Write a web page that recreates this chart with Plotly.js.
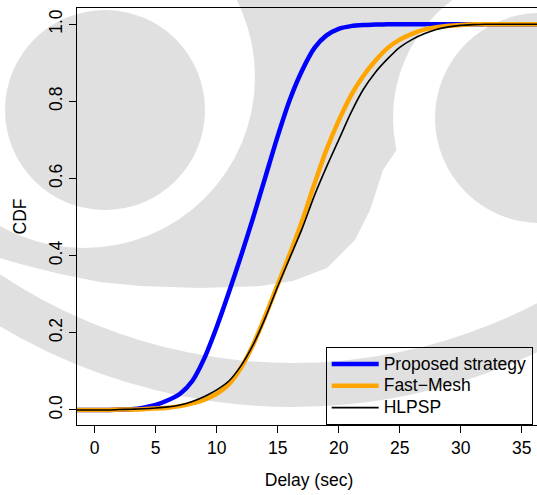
<!DOCTYPE html>
<html>
<head>
<meta charset="utf-8">
<script src="https://cdn.plot.ly/plotly-3.0.1.min.js"></script>
<style>
html, body { margin: 0; padding: 0; overflow: hidden; background: #ffffff; }
#chart { width: 541px; height: 495px; }
</style>
</head>
<body>
<div id="chart"></div>
<script>
// ---- data ----
const delay = [-2, 0, 1, 2, 3, 4, 5, 6, 7, 8, 9, 10, 11, 12, 13, 14, 15, 16, 17, 18, 19, 20, 21, 22, 23, 24, 25, 26, 27, 28, 29, 30, 31, 32, 33, 38];
const proposedCdf = [0, 0, 0, 0.001, 0.002, 0.006, 0.013, 0.025, 0.042, 0.075, 0.135, 0.215, 0.305, 0.40, 0.50, 0.605, 0.71, 0.805, 0.88, 0.938, 0.971, 0.988, 0.995, 0.998, 0.999, 1.0, 1.0, 1.0, 1.0, 1.0, 1.0, 1.0, 1.0, 1.0, 1.0, 1.0];
const fastMeshCdf = [0, 0, 0, 0.001, 0.001, 0.002, 0.004, 0.006, 0.010, 0.017, 0.027, 0.042, 0.067, 0.11, 0.17, 0.245, 0.325, 0.405, 0.49, 0.585, 0.675, 0.75, 0.815, 0.865, 0.905, 0.938, 0.96, 0.975, 0.986, 0.992, 0.996, 0.998, 1.0, 1.0, 1.0, 1.0];
const hlpspCdf = [0, 0, 0, 0.001, 0.002, 0.003, 0.005, 0.008, 0.013, 0.022, 0.035, 0.052, 0.075, 0.115, 0.17, 0.24, 0.32, 0.395, 0.47, 0.555, 0.63, 0.70, 0.77, 0.83, 0.875, 0.91, 0.94, 0.96, 0.975, 0.986, 0.993, 0.997, 0.999, 1.0, 1.0, 1.0];
const seriesNames = ["Proposed strategy", "Fast\u2212Mesh", "HLPSP"];
const xTicks = [0, 5, 10, 15, 20, 25, 30, 35];
const yTicks = [0, 0.2, 0.4, 0.6, 0.8, 1.0];
const yTickText = ["0.0", "0.2", "0.4", "0.6", "0.8", "1.0"];

// ---- geometry ----
const W = 541, H = 495, ML = 77, MR = 0, MT = 8, MB = 70;
const PW = W - ML - MR, PH = H - MT - MB;
const px2x = p => (p - ML) / PW;
const px2y = p => (H - MB - p) / PH;
const WM = '#e0e0e0';
function disc(cx, cy, r, color) {
  return { type: 'circle', xref: 'paper', yref: 'paper', layer: 'below',
    x0: px2x(cx - r), x1: px2x(cx + r), y0: px2y(cy + r), y1: px2y(cy - r),
    fillcolor: color, line: { width: 0 } };
}
function poly(pts, color) {
  const d = pts.map((p, i) => (i ? 'L' : 'M') + px2x(p[0]).toFixed(4) + ',' + px2y(p[1]).toFixed(4)).join(' ') + ' Z';
  return { type: 'path', xref: 'paper', yref: 'paper', layer: 'below', path: d,
    fillcolor: color, line: { width: 0 } };
}
// faint background watermark (approximate)
const shapes = [
  disc(293, -165, 572, WM),
  disc(293, -165, 528, '#ffffff'),
  poly([[30, -10], [460, -10], [440, 60], [410, 130], [383, 170], [370, 210], [355, 240], [327, 268],
        [293, 281], [260, 286], [200, 288], [140, 286], [100, 282], [60, 274], [20, 264], [-10, 255], [-10, 150]], WM),
  disc(84, 77, 171, '#ffffff'),
  disc(105, 110, 100, WM),
  disc(540, 118, 147, '#ffffff'),
  disc(540, 118, 105, WM)
];

const font = "'Liberation Sans', Arial, Helvetica, sans-serif";
const FS = 17.5;
const legendName = s => '<span style="font-size:' + FS + 'px">' + s + '</span>';

const traces = [
  { x: delay, y: proposedCdf, name: legendName(seriesNames[0]), type: 'scatter', mode: 'lines',
    line: { color: '#0000ff', width: 4.5, shape: 'spline', smoothing: 0.8 } },
  { x: delay, y: fastMeshCdf, name: legendName(seriesNames[1]), type: 'scatter', mode: 'lines',
    line: { color: '#ffa500', width: 4.5, shape: 'spline', smoothing: 0.8 } },
  { x: delay, y: hlpspCdf, name: legendName(seriesNames[2]), type: 'scatter', mode: 'lines',
    line: { color: '#000000', width: 1.6, shape: 'spline', smoothing: 0.8 } }
];

const layout = {
  width: W, height: H,
  margin: { l: ML, r: MR, t: MT, b: MB, pad: 0 },
  paper_bgcolor: '#ffffff',
  plot_bgcolor: 'rgba(0,0,0,0)',
  font: { family: font, size: FS, color: '#000000' },
  showlegend: true,
  shapes: shapes,
  xaxis: {
    range: [-1.45, 36.58], tickvals: xTicks, ticktext: xTicks.map(String),
    ticks: 'outside', ticklen: 7, tickwidth: 1, tickcolor: '#000000',
    showline: true, linecolor: '#000000', linewidth: 1, mirror: true,
    showgrid: false, zeroline: false,
    tickfont: { family: font, size: FS, color: '#000000' },
    title: { text: 'Delay (sec)', font: { family: font, size: FS, color: '#000000' }, standoff: 16 }
  },
  yaxis: {
    range: [-0.039, 1.042], tickvals: yTicks, ticktext: yTickText, tickangle: -90,
    ticks: 'outside', ticklen: 7, tickwidth: 1, tickcolor: '#000000',
    showline: true, linecolor: '#000000', linewidth: 1, mirror: true,
    showgrid: false, zeroline: false,
    tickfont: { family: font, size: FS, color: '#000000' },
    title: { text: 'CDF', font: { family: font, size: FS, color: '#000000' }, standoff: 14 }
  },
  legend: {
    x: px2x(325.7), y: 0, xanchor: 'left', yanchor: 'bottom',
    bgcolor: 'rgba(0,0,0,0)', bordercolor: '#000000', borderwidth: 1,
    font: { family: font, size: 14.5, color: '#000000' },
    traceorder: 'normal', itemwidth: 47
  }
};

Plotly.newPlot('chart', traces, layout, { staticPlot: true, displayModeBar: false });
</script>
</body>
</html>
